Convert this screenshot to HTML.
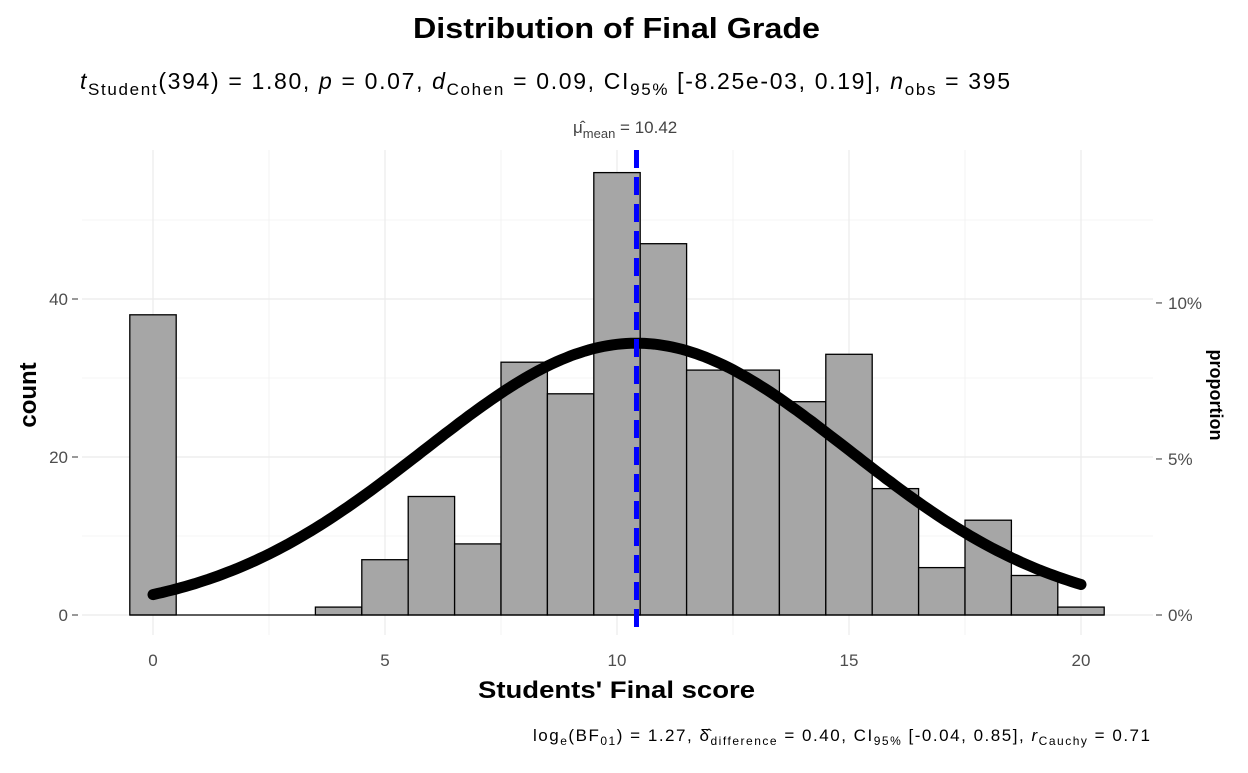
<!DOCTYPE html>
<html><head><meta charset="utf-8"><style>
body{margin:0;background:#fff;font-family:"Liberation Sans",Arial,sans-serif}
svg text{font-family:"Liberation Sans",Arial,sans-serif}
</style></head><body>
<svg id="chart" width="1248" height="768" viewBox="0 0 1248 768">
<text x="413" y="38" font-size="29" font-weight="bold" textLength="407" lengthAdjust="spacingAndGlyphs">Distribution of Final Grade</text>
<text x="80" y="89" font-size="23" textLength="930" lengthAdjust="spacing"><tspan font-style="italic">t</tspan><tspan font-size="17" dy="6">Student</tspan><tspan dy="-6">(394) = 1.80, </tspan><tspan font-style="italic">p</tspan><tspan> = 0.07, </tspan><tspan font-style="italic">d</tspan><tspan font-size="17" dy="6">Cohen</tspan><tspan dy="-6"> = 0.09, CI</tspan><tspan font-size="17" dy="6">95%</tspan><tspan dy="-6"> [-8.25e-03, 0.19], </tspan><tspan font-style="italic">n</tspan><tspan font-size="17" dy="6">obs</tspan><tspan dy="-6"> = 395</tspan></text>
<text x="573" y="133" font-size="17" fill="#444">μ̂<tspan font-size="13" dy="5">mean</tspan><tspan dy="-5"> = 10.42</tspan></text>
<g id="grid"></g><g id="bars"></g><g id="curve"></g><g id="axes"></g>
<text x="478" y="698" font-size="24" font-weight="bold" textLength="277" lengthAdjust="spacingAndGlyphs">Students' Final score</text>
<text transform="translate(36,395) rotate(-90)" text-anchor="middle" font-size="24" font-weight="bold">count</text>
<text transform="translate(1210,395) rotate(90)" text-anchor="middle" font-size="18" font-weight="bold">proportion</text>
<text x="533" y="741" font-size="17" textLength="617" lengthAdjust="spacing">log<tspan font-size="12" dy="4">e</tspan><tspan dy="-4">(BF</tspan><tspan font-size="12" dy="4">01</tspan><tspan dy="-4">) = 1.27, δ̂</tspan><tspan font-size="12" dy="4">difference</tspan><tspan dy="-4"> = 0.40, CI</tspan><tspan font-size="12" dy="4">95%</tspan><tspan dy="-4"> [-0.04, 0.85], </tspan><tspan font-style="italic">r</tspan><tspan font-size="12" dy="4">Cauchy</tspan><tspan dy="-4"> = 0.71</tspan></text>
</svg>
<script>
const grades=[0,1,2,3,4,5,6,7,8,9,10,11,12,13,14,15,16,17,18,19,20];
const counts=[38,0,0,0,1,7,15,9,32,28,56,47,31,31,27,33,16,6,12,5,1];
const xTicks=[0,5,10,15,20];
const yTicks=[0,20,40];
const propTicks=[0,0.05,0.10];
const propLabels=["0%","5%","10%"];
const meanVal=10.42, sdVal=4.58, nObs=395;
const NS="http://www.w3.org/2000/svg";
const X=v=>153+v*46.4, Y=v=>615-v*7.9;
const L=82,R=1153,T=150,B=635;
function mk(tag,attrs,parent){const e=document.createElementNS(NS,tag);for(const k in attrs)e.setAttribute(k,attrs[k]);document.getElementById(parent).appendChild(e);return e;}
for(let v=-2.5;v<=22.5;v+=2.5){if(X(v)<L||X(v)>R)continue;const major=xTicks.includes(v);
const g=mk('line',{x1:X(v),x2:X(v),y1:T,y2:B,stroke:'#ebebeb','stroke-width':major?1.2:0.6},'grid');

}
for(let v=0;v<=55;v+=10){const major=yTicks.includes(v);
const g=mk('line',{x1:L,x2:R,y1:Y(v),y2:Y(v),stroke:'#ebebeb','stroke-width':major?1.2:0.6},'grid');

}
grades.forEach((g,i)=>{if(!counts[i])return;
const r=mk('rect',{x:X(g-0.5),y:Y(counts[i]),width:X(1)-X(0),height:Y(0)-Y(counts[i]),fill:'#a6a6a6',stroke:'#000','stroke-width':1.3},'bars');

});
const bl=mk('line',{x1:X(-0.5),x2:X(20.5),y1:Y(0),y2:Y(0),stroke:'#000','stroke-width':1.3},'bars');


let d='';for(let v=0;v<=20.001;v+=0.1){const c=nObs/(sdVal*Math.sqrt(2*Math.PI))*Math.exp(-((v-meanVal)**2)/(2*sdVal*sdVal));d+=(d?'L':'M')+X(v).toFixed(1)+','+Y(c).toFixed(1);}
const cv=mk('path',{d:d,fill:'none',stroke:'#000','stroke-width':11,'stroke-linecap':'round'},'curve');


const ml=mk('line',{x1:X(meanVal),x2:X(meanVal),y1:T,y2:B,stroke:'#0000ff','stroke-width':5,'stroke-dasharray':'18,9'},'curve');


xTicks.forEach(v=>{const t=mk('text',{x:X(v),y:666,'text-anchor':'middle','font-size':17,fill:'#4d4d4d'},'axes');t.textContent=v;

});
yTicks.forEach(v=>{const t=mk('text',{x:68,y:Y(v)+6,'text-anchor':'end','font-size':17,fill:'#4d4d4d'},'axes');t.textContent=v;


const k=mk('line',{x1:72,x2:78,y1:Y(v),y2:Y(v),stroke:'#333'},'axes');

});
propTicks.forEach((p,i)=>{const y=Y(p*nObs);
const k=mk('line',{x1:1156,x2:1162,y1:y,y2:y,stroke:'#333'},'axes');


const t=mk('text',{x:1168,y:y+6,'font-size':17,fill:'#4d4d4d'},'axes');t.textContent=propLabels[i];

});
</script>
</body></html>
